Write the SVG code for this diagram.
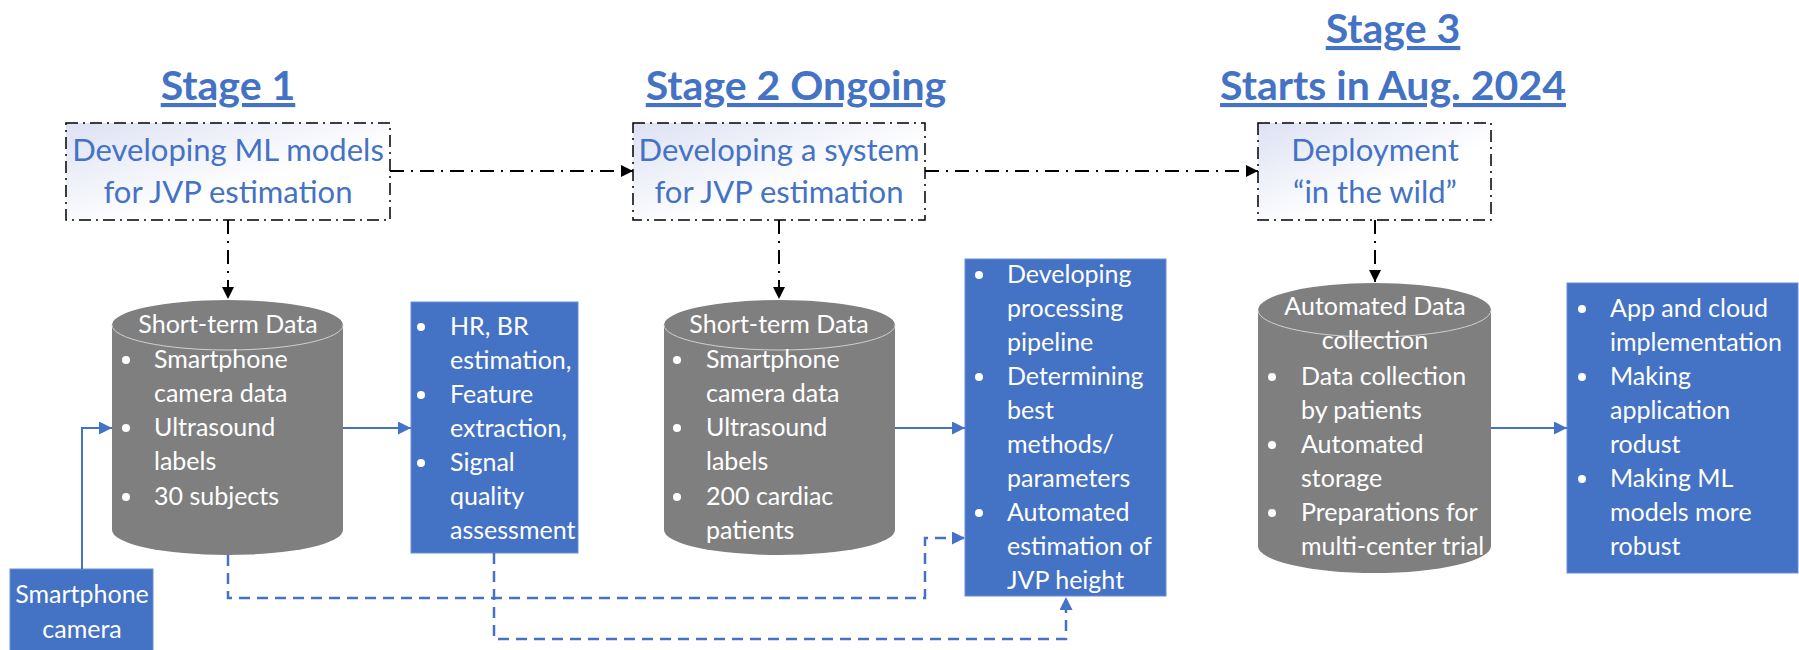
<svg xmlns="http://www.w3.org/2000/svg" width="1799" height="650" viewBox="0 0 1799 650">
<style>
  .stage{font-family:Lato,"Liberation Sans",sans-serif;font-weight:bold;font-size:41px;fill:#4472c4;text-anchor:middle;text-decoration:underline;}
  .ttl{font-family:Lato,"Liberation Sans",sans-serif;font-size:31px;fill:#4472c4;text-anchor:middle;}
  .tbox{fill:url(#lav);stroke:#000;stroke-width:1.5;stroke-dasharray:12 5 2 5;}
  .wt{font-family:Lato,"Liberation Sans",sans-serif;font-size:25px;fill:#fff;}
  .wc{font-family:Lato,"Liberation Sans",sans-serif;font-size:25px;fill:#fff;text-anchor:middle;}
  .cyl{fill:#7f7f7f;}
  .cyltop{fill:none;stroke:#d0d0d0;stroke-width:1;}
  .blue{fill:#4472c4;stroke:#6b8fd4;stroke-width:1;}
  .bul{fill:#fff;}
  .dd{fill:none;stroke:#000;stroke-width:2;stroke-dasharray:14 7 2 7;}
  .bl{fill:none;stroke:#4472c4;stroke-width:2;}
  .bd{fill:none;stroke:#4472c4;stroke-width:2.5;stroke-dasharray:11 7;}
</style>
<defs>
  <linearGradient id="lav" x1="0" y1="0" x2="1" y2="1">
    <stop offset="0" stop-color="#dde1f3"/>
    <stop offset="0.6" stop-color="#ffffff"/>
  </linearGradient>
  <marker id="ak" viewBox="0 0 12 12" refX="12" refY="6" markerWidth="12" markerHeight="12" markerUnits="userSpaceOnUse" orient="auto">
    <path d="M0,0 L12,6 L0,12 Z" fill="#000"/>
  </marker>
  <marker id="ab" viewBox="0 0 12 12" refX="12" refY="6" markerWidth="13" markerHeight="13" markerUnits="userSpaceOnUse" orient="auto">
    <path d="M0,0 L12,6 L0,12 Z" fill="#4472c4"/>
  </marker>
</defs>

<!-- stage titles -->
<g id="titles">
  <text class="stage" x="228" y="100">Stage 1</text>
  <text class="stage" x="796" y="100">Stage 2 Ongoing</text>
  <text class="stage" x="1393" y="43">Stage 3</text>
  <text class="stage" x="1393" y="100">Starts in Aug. 2024</text>
</g>

<g id="box1">
  <rect class="tbox" x="66" y="123" width="324" height="97"/>
  <text class="ttl" x="228" y="161">Developing ML models</text>
  <text class="ttl" x="228" y="203">for JVP estimation</text>
</g>
<g id="box2">
  <rect class="tbox" x="633" y="123" width="292" height="97"/>
  <text class="ttl" x="779" y="161">Developing a system</text>
  <text class="ttl" x="779" y="203">for JVP estimation</text>
</g>
<g id="box3">
  <rect class="tbox" x="1258" y="123" width="233" height="97"/>
  <text class="ttl" x="1375" y="161">Deployment</text>
  <text class="ttl" x="1375" y="203">“in the wild”</text>
</g>

<g id="cyl1">
  <path class="cyl" d="M112,325 A115.5,25 0 0 1 343,325 L343,530 A115.5,25 0 0 1 112,530 Z"/>
  <path class="cyltop" d="M112,325 A115.5,25 0 0 0 343,325"/>
  <text class="wc" x="228" y="333">Short-term Data</text>
  <circle class="bul" cx="126" cy="360" r="4"/>
  <circle class="bul" cx="126" cy="428" r="4"/>
  <circle class="bul" cx="126" cy="497" r="4"/>
  <text class="wt" x="154" y="368">Smartphone</text>
  <text class="wt" x="154" y="402">camera data</text>
  <text class="wt" x="154" y="436">Ultrasound</text>
  <text class="wt" x="154" y="470">labels</text>
  <text class="wt" x="154" y="505">30 subjects</text>
</g>

<g id="cyl2">
  <path class="cyl" d="M664,325 A115.5,25 0 0 1 895,325 L895,530 A115.5,25 0 0 1 664,530 Z"/>
  <path class="cyltop" d="M664,325 A115.5,25 0 0 0 895,325"/>
  <text class="wc" x="779" y="333">Short-term Data</text>
  <circle class="bul" cx="677" cy="360" r="4"/>
  <circle class="bul" cx="677" cy="428" r="4"/>
  <circle class="bul" cx="677" cy="497" r="4"/>
  <text class="wt" x="706" y="368">Smartphone</text>
  <text class="wt" x="706" y="402">camera data</text>
  <text class="wt" x="706" y="436">Ultrasound</text>
  <text class="wt" x="706" y="470">labels</text>
  <text class="wt" x="706" y="505">200 cardiac</text>
  <text class="wt" x="706" y="539">patients</text>
</g>

<g id="cyl3">
  <path class="cyl" d="M1258,310 A116.5,27 0 0 1 1491,310 L1491,546 A116.5,27 0 0 1 1258,546 Z"/>
  <path class="cyltop" d="M1258,310 A116.5,27 0 0 0 1491,310"/>
  <text class="wc" x="1375" y="315">Automated Data</text>
  <text class="wc" x="1375" y="349">collection</text>
  <circle class="bul" cx="1272" cy="377" r="4"/>
  <circle class="bul" cx="1272" cy="445" r="4"/>
  <circle class="bul" cx="1272" cy="513" r="4"/>
  <text class="wt" x="1301" y="385">Data collection</text>
  <text class="wt" x="1301" y="419">by patients</text>
  <text class="wt" x="1301" y="453">Automated</text>
  <text class="wt" x="1301" y="487">storage</text>
  <text class="wt" x="1301" y="521">Preparations for</text>
  <text class="wt" x="1301" y="555">multi-center trial</text>
</g>

<g id="proc1">
  <rect class="blue" x="411" y="302" width="167" height="251"/>
  <circle class="bul" cx="421" cy="327" r="4"/>
  <circle class="bul" cx="421" cy="395" r="4"/>
  <circle class="bul" cx="421" cy="463" r="4"/>
  <text class="wt" x="450" y="335">HR, BR</text>
  <text class="wt" x="450" y="369">estimation,</text>
  <text class="wt" x="450" y="403">Feature</text>
  <text class="wt" x="450" y="437">extraction,</text>
  <text class="wt" x="450" y="471">Signal</text>
  <text class="wt" x="450" y="505">quality</text>
  <text class="wt" x="450" y="539">assessment</text>
</g>

<g id="proc2">
  <rect class="blue" x="965" y="259" width="201" height="337"/>
  <circle class="bul" cx="979" cy="275" r="4"/>
  <circle class="bul" cx="979" cy="377" r="4"/>
  <circle class="bul" cx="979" cy="513" r="4"/>
  <text class="wt" x="1007" y="283">Developing</text>
  <text class="wt" x="1007" y="317">processing</text>
  <text class="wt" x="1007" y="351">pipeline</text>
  <text class="wt" x="1007" y="385">Determining</text>
  <text class="wt" x="1007" y="419">best</text>
  <text class="wt" x="1007" y="453">methods/</text>
  <text class="wt" x="1007" y="487">parameters</text>
  <text class="wt" x="1007" y="521">Automated</text>
  <text class="wt" x="1007" y="555">estimation of</text>
  <text class="wt" x="1007" y="589">JVP height</text>
</g>

<g id="proc3">
  <rect class="blue" x="1567" y="283" width="231" height="290"/>
  <circle class="bul" cx="1582" cy="309" r="4"/>
  <circle class="bul" cx="1582" cy="377" r="4"/>
  <circle class="bul" cx="1582" cy="479" r="4"/>
  <text class="wt" x="1610" y="317">App and cloud</text>
  <text class="wt" x="1610" y="351">implementation</text>
  <text class="wt" x="1610" y="385">Making</text>
  <text class="wt" x="1610" y="419">application</text>
  <text class="wt" x="1610" y="453">rodust</text>
  <text class="wt" x="1610" y="487">Making ML</text>
  <text class="wt" x="1610" y="521">models more</text>
  <text class="wt" x="1610" y="555">robust</text>
</g>

<g id="camera">
  <rect class="blue" x="10" y="569" width="143" height="90"/>
  <text class="wc" x="82" y="603">Smartphone</text>
  <text class="wc" x="82" y="638">camera</text>
</g>

<g id="connectors">
  <line class="dd" x1="390" y1="171" x2="633" y2="171" marker-end="url(#ak)"/>
  <line class="dd" x1="925" y1="171" x2="1258" y2="171" marker-end="url(#ak)"/>
  <line class="dd" x1="228" y1="220" x2="228" y2="299" marker-end="url(#ak)"/>
  <line class="dd" x1="779" y1="220" x2="779" y2="299" marker-end="url(#ak)"/>
  <line class="dd" x1="1375" y1="220" x2="1375" y2="282" marker-end="url(#ak)"/>
  <path class="bl" d="M82,569 V428 H112" marker-end="url(#ab)"/>
  <line class="bl" x1="343" y1="428" x2="411" y2="428" marker-end="url(#ab)"/>
  <line class="bl" x1="895" y1="428" x2="965" y2="428" marker-end="url(#ab)"/>
  <line class="bl" x1="1491" y1="428" x2="1567" y2="428" marker-end="url(#ab)"/>
  <path class="bd" d="M228,555 V598 H925 V538 H965" marker-end="url(#ab)"/>
  <path class="bd" d="M494,553 V639 H1066 V597" marker-end="url(#ab)"/>
</g>
</svg>
